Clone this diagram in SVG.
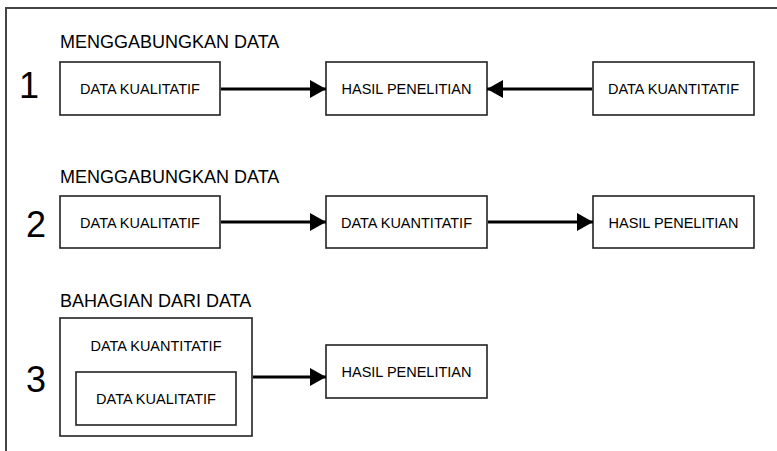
<svg xmlns="http://www.w3.org/2000/svg" width="777" height="451" viewBox="0 0 777 451">
<style>
.box{fill:#fff;stroke:#222;stroke-width:1.6}
.t{font-family:"Liberation Sans",Arial,sans-serif;font-size:14.5px;fill:#000;text-anchor:middle}
.h{font-family:"Liberation Sans",Arial,sans-serif;font-size:18px;fill:#000}
.n{font-family:"Liberation Sans",Arial,sans-serif;font-size:36px;fill:#000}
.c{stroke:#000;stroke-width:3;fill:none;marker-end:url(#ah)}
</style>
<defs>
<marker id="ah" markerUnits="userSpaceOnUse" markerWidth="17" markerHeight="18" refX="16" refY="9" orient="auto">
<path d="M0,0 L16,9 L0,18 z" fill="#000"/>
</marker>
</defs>
<rect width="777" height="451" fill="#fff"/>
<g id="frame">
<path d="M6,451 V8 H777" fill="none" stroke="#444" stroke-width="2"/>
</g>
<g id="labels">
<text class="h" x="60" y="48">MENGGABUNGKAN DATA</text>
<text class="h" x="60" y="183">MENGGABUNGKAN DATA</text>
<text class="h" x="60" y="307">BAHAGIAN DARI DATA</text>
<text class="n" x="19" y="98">1</text>
<text class="n" x="26" y="237">2</text>
<text class="n" x="26" y="392">3</text>
</g>
<g id="r1-kual"><rect class="box" x="60" y="62" width="160" height="53"/><text class="t" x="140" y="94">DATA KUALITATIF</text></g>
<g id="r1-hasil"><rect class="box" x="326" y="62" width="161" height="53"/><text class="t" x="406.5" y="94">HASIL PENELITIAN</text></g>
<g id="r1-kuan"><rect class="box" x="593" y="62" width="161" height="53"/><text class="t" x="673.5" y="94">DATA KUANTITATIF</text></g>
<g id="r2-kual"><rect class="box" x="60" y="196" width="160" height="52"/><text class="t" x="140" y="228">DATA KUALITATIF</text></g>
<g id="r2-kuan"><rect class="box" x="326" y="196" width="161" height="52"/><text class="t" x="406.5" y="228">DATA KUANTITATIF</text></g>
<g id="r2-hasil"><rect class="box" x="593" y="196" width="161" height="52"/><text class="t" x="673.5" y="228">HASIL PENELITIAN</text></g>
<g id="r3-kuan"><rect class="box" x="60" y="318" width="192" height="118"/><text class="t" x="156" y="351">DATA KUANTITATIF</text></g>
<g id="r3-kual"><rect class="box" x="76" y="372" width="160" height="53"/><text class="t" x="156" y="404">DATA KUALITATIF</text></g>
<g id="r3-hasil"><rect class="box" x="326" y="345" width="161" height="53"/><text class="t" x="406.5" y="377">HASIL PENELITIAN</text></g>
<g id="connectors">
<line class="c" x1="221" y1="89" x2="326" y2="89"/>
<line class="c" x1="592" y1="89" x2="487" y2="89"/>
<line class="c" x1="221" y1="222" x2="326" y2="222"/>
<line class="c" x1="488" y1="222" x2="593" y2="222"/>
<line class="c" x1="253" y1="377" x2="326" y2="377"/>
</g>
</svg>
